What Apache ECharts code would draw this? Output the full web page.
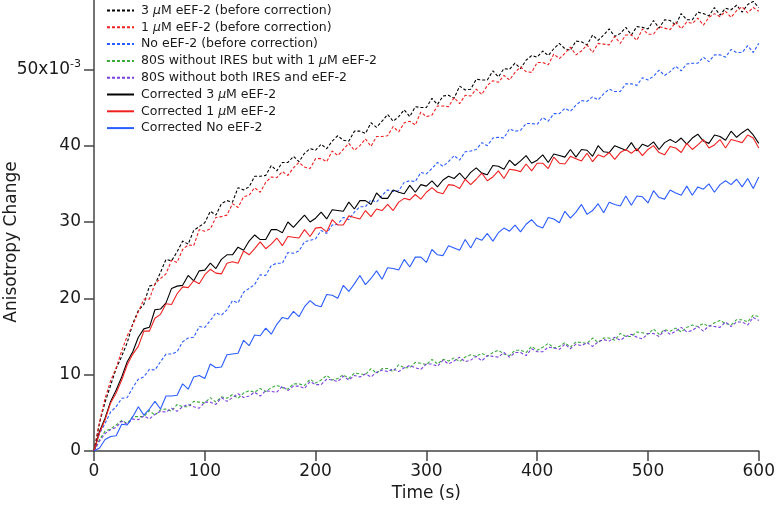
<!DOCTYPE html>
<html>
<head>
<meta charset="utf-8">
<script src="https://cdn.jsdelivr.net/npm/echarts@6/dist/echarts.min.js"></script>
<style>
html,body{margin:0;padding:0;background:#fff;overflow:hidden;width:778px;height:513px;}
#chart{position:absolute;left:0;top:-7px;width:778px;height:520px;}
</style>
</head>
<body>
<div id="chart"></div>
<script>
// Time (s)
const time = [0,5,10,15,20,25,30,35,40,45,50,55,60,65,70,75,80,85,90,95,
100,105,110,115,120,125,130,135,140,145,150,155,160,165,170,175,180,185,190,195,
200,205,210,215,220,225,230,235,240,245,250,255,260,265,270,275,280,285,290,295,
300,305,310,315,320,325,330,335,340,345,350,355,360,365,370,375,380,385,390,395,
400,405,410,415,420,425,430,435,440,445,450,455,460,465,470,475,480,485,490,495,
500,505,510,515,520,525,530,535,540,545,550,555,560,565,570,575,580,585,590,595,
600];

// Anisotropy change (x10^-3)
const before3uM = [0,3.7,6.4,8.6,10.8,12.4,14.2,16.7,18.4,19.2,21.6,21.8,23.4,25.1,24.9,26.1,27.5,27.1,28.9,29.4,
29.9,31.4,30.9,32.4,32.8,32.6,34.5,34.2,34.6,36,36,36.1,37.4,36.7,37.8,37.8,38.6,37.9,39,39.6,
39.4,40.2,39.6,40.6,41.3,40.7,40.6,41.9,41.9,41.6,43,42.4,43.2,44.1,43.2,43.8,44.7,43.8,45.1,45,
45,46.2,45.4,46.5,46.6,46.2,47.8,47.3,47.4,48.7,48.6,48.6,49.8,49,50.1,50,50.8,50.1,51.2,51.8,
51.6,52.4,51.8,52.7,53.4,52.7,52.5,53.7,53.6,53.2,54.5,53.8,54.5,55.3,54.3,54.7,55.5,54.5,55.6,55.5,
55.3,56.4,55.4,56.5,56.4,55.8,57.3,56.5,56.5,57.5,57.3,57,58.1,57.1,58,57.8,58.4,57.5,58.5,58.9,
58.1];

const before1uM = [0,3.8,6.9,9.2,10.9,13.1,15.1,16.5,18.2,19.9,19.9,21.9,22.6,23.2,25,24.7,26.4,27,26.9,29,
28.8,29.1,30.6,30.7,30.9,32.4,31.9,33.3,33.5,34.5,33.9,35.2,35.9,35.8,36.6,36.1,37.1,37.8,37.2,37,
38.3,38.3,37.9,39.3,38.7,39.5,40.3,39.4,40,40.9,39.9,41.2,41.2,41.3,42.5,41.8,43,43.2,42.7,44.4,
43.8,44,45.2,45.2,45.1,46.3,45.5,46.6,46.5,47.4,46.7,47.9,48.5,48.3,49.2,48.6,49.6,50.3,49.7,49.6,
50.9,50.9,50.6,52,51.4,52.1,52.9,51.9,52.4,53.2,52.2,53.4,53.3,53.2,54.3,53.4,54.5,54.5,53.8,55.3,
54.6,54.6,55.6,55.4,55.2,56.2,55.3,56.2,56,56.7,55.8,56.8,57.3,56.9,57.6,56.8,57.7,58.2,57.4,58.1,
57.6];

const beforeNo = [0,2.3,3.6,5.1,5.8,6.9,7,8.3,9.4,9.7,10.7,10.6,11.7,12.7,12.7,13,14.3,14.8,14.9,16.3,
16.2,17.1,18.1,17.8,18.5,19.7,19.4,20.8,21.3,21.8,23.1,23,24.3,24.6,24.6,26,25.9,26.2,27.4,27.6,
27.8,28.9,28.5,29.6,29.7,30.6,30.3,31.3,32,32,32.9,32.6,33.5,34.2,34,34.1,35.2,35.4,35.3,36.5,
36.3,37,37.8,37.3,37.9,38.7,38.1,39.2,39.3,39.5,40.4,40,41,41.1,41,42.2,41.9,42,42.9,42.9,
42.8,43.7,43.2,44.2,44.2,44.9,44.5,45.3,45.9,45.8,46.4,46,46.8,47.4,47.1,47.1,48.1,48.1,47.9,48.9,
48.6,49.1,49.9,49.2,49.7,50.4,49.8,50.7,50.8,50.8,51.6,51,51.9,51.9,51.6,52.6,52.2,52.2,53.1,52.2,
53.4];

const noIRESwith1uM = [0,1.5,2.6,2.9,3.4,4,3.6,4.5,4.5,4.5,5.3,4.7,5.4,5.5,5.2,6.1,5.8,5.8,6.5,6.4,
6.3,7,6.4,7.1,6.9,7.4,6.9,7.6,7.9,7.7,8.2,7.8,8.3,8.6,8.3,8.1,8.8,8.8,8.6,9.4,
8.9,9.3,9.9,9.3,9.5,10,9.5,10.2,10.1,10,10.8,10.2,10.8,10.8,10.4,11.3,10.9,10.9,11.6,11.5,
11.3,12,11.4,12,11.8,12.2,11.7,12.3,12.6,12.4,12.8,12.4,12.9,13.2,12.7,12.5,13.2,13.2,12.9,13.7,
13.2,13.6,14.1,13.5,13.7,14.2,13.6,14.3,14.2,14.1,14.8,14.2,14.8,14.8,14.5,15.4,15,15,15.6,15.5,
15.3,16,15.3,15.9,15.7,16.1,15.6,16.2,16.5,16.3,16.7,16.3,16.8,17.1,16.7,16.5,17.2,17.2,16.9,17.8,
17.6];

const noIRESnoEEF2 = [0,1.3,2.3,2.8,3.1,3.9,3.5,4.2,4.1,4.6,4.2,4.8,5.2,5.1,5.6,5.2,5.8,6.1,5.8,5.6,
6.4,6.4,6.1,7,6.5,7,7.5,7,7.2,7.7,7.2,7.9,7.8,7.7,8.5,7.9,8.5,8.5,8.2,9.1,
8.7,8.7,9.4,9.3,9.1,9.8,9.3,9.9,9.7,10.1,9.7,10.3,10.6,10.4,10.8,10.4,10.9,11.2,10.9,10.7,
11.4,11.4,11.1,11.9,11.4,11.8,12.3,11.7,11.9,12.4,11.8,12.5,12.4,12.3,12.9,12.3,12.9,12.9,12.5,13.4,
13,13,13.6,13.5,13.3,14,13.4,14,13.8,14.2,13.7,14.3,14.6,14.4,14.9,14.5,15,15.3,14.9,14.7,
15.4,15.4,15,15.8,15.3,15.7,16.2,15.6,15.8,16.3,15.7,16.4,16.3,16.2,16.9,16.3,16.9,16.9,16.5,17.5,
17.1];

const corrected3uM = [0,2.6,4.3,6.5,8,9.7,11.7,13,14.9,16,16.2,18.5,18.6,19.4,21.3,21.6,21.7,23,22.3,23.6,
23.7,24.6,23.9,25.1,25.7,25.7,26.7,26.3,27.5,28.3,27.7,27.7,29,29,28.6,30,29.3,30.1,30.9,30,
30.5,31.3,30.4,31.6,31.5,31.4,32.6,31.7,32.8,32.8,32.3,33.8,33.1,33.1,34.2,33.9,33.7,34.8,33.9,34.9,
34.7,35.4,34.6,35.5,36,35.7,36.4,35.6,36.5,37.1,36.4,36.2,37.4,37.3,36.9,38.1,37.4,38,38.7,37.7,
38.1,38.8,37.8,38.9,38.7,38.5,39.5,38.5,39.5,39.4,38.6,40,39.2,39.1,40,39.7,39.4,40.4,39.3,40.2,
39.9,40.5,39.5,40.4,40.8,40.4,41,40.2,41,41.5,40.6,40.3,41.4,41.2,40.7,41.9,41.1,41.7,42.2,41.4,
40.3];

const corrected1uM = [0,2.4,4.1,6.3,7.6,9.3,11.3,12.7,13.7,15.7,15.7,17.4,17.9,19.3,19.2,20.6,21.5,21.4,22.3,21.9,
23.1,23.8,23.3,23.2,24.6,24.8,24.6,26.2,25.7,26.5,27.4,26.5,27.1,27.9,26.9,28.1,28,27.9,29,28.1,
29.2,29.3,28.7,30.3,29.6,29.6,30.8,30.6,30.4,31.5,30.7,31.7,31.5,32.3,31.5,32.6,33.1,32.9,33.6,33,
33.9,34.5,33.9,33.7,34.9,34.8,34.4,35.6,34.9,35.6,36.4,35.4,35.9,36.7,35.7,36.9,36.8,36.6,37.6,36.7,
37.7,37.7,37,38.5,37.7,37.6,38.6,38.3,38,39,37.9,38.8,38.5,39.1,38.2,39.1,39.5,39,39.6,38.7,
39.5,40,39.1,38.8,39.9,39.7,39.1,40.3,39.5,40.1,40.8,39.7,40.1,40.8,39.7,40.8,40.6,40.4,41.4,41,
39.7];

const correctedNo = [0,0.4,1.5,1.9,2,3.5,3.4,4.5,5.8,4.7,5.5,6.5,5.5,7.2,7.2,7.3,8.8,8.1,9.7,9.9,
9.5,11.4,10.9,11,12.6,12.7,12.8,14.5,13.8,15.2,15.1,16.1,15.3,16.6,17.5,17.3,18.3,17.6,18.9,19.7,
19.1,18.9,20.5,20.4,20,21.7,20.9,21.9,23,21.8,22.6,23.6,22.5,24,23.9,23.7,25.1,24.1,25.4,25.4,
24.7,26.4,25.7,25.6,26.9,26.6,26.3,27.7,26.6,27.9,27.6,28.5,27.5,28.6,29.2,28.8,29.6,28.7,29.7,30.3,
29.5,29.2,30.6,30.4,29.9,31.4,30.5,31.3,32.3,31,31.5,32.4,31.2,32.6,32.3,32.1,33.4,32.2,33.4,33.3,
32.5,34.1,33.2,33,34.2,33.8,33.5,34.7,33.5,34.6,34.3,35,33.9,34.9,35.4,34.9,35.6,34.6,35.7,34.4,
35.9];

const seriesNames = [
  '3 μM eEF-2 (before correction)',
  '1 μM eEF-2 (before correction)',
  'No eEF-2 (before correction)',
  '80S without IRES but with 1 μM eEF-2',
  '80S without both IRES and eEF-2',
  'Corrected 3 μM eEF-2',
  'Corrected 1 μM eEF-2',
  'Corrected No eEF-2'
];
const seriesValues = [before3uM, before1uM, beforeNo, noIRESwith1uM, noIRESnoEEF2, corrected3uM, corrected1uM, correctedNo];
const seriesColors = ['#000000', '#f02020', '#2a5cff', '#3aaa3a', '#7a3fe0', '#000000', '#f02020', '#2a5cff'];
const seriesDashed = [true, true, true, true, true, false, false, false];

// y tick labels (value -> label); 60 lies just above the visible page
const yTickLabels = {0: '0', 10: '10', 20: '20', 30: '30', 40: '40', 50: '{b|50x10}{s|-3}'};

const FONT = 'DejaVu Sans';
const AXIS_COLOR = '#444444';
const TEXT_COLOR = '#1a1a1a';
const SHIFT = 7; // the chart div starts 7px above the page

const chart = echarts.init(document.getElementById('chart'), null, {renderer: 'canvas'});

const series = seriesNames.map((name, k) => ({
  name: name,
  type: 'line',
  data: time.map((t, i) => [t, seriesValues[k][i]]),
  symbol: 'none',
  showSymbol: false,
  smooth: false,
  clip: true,
  z: seriesDashed[k] ? 2 : 3,
  lineStyle: {
    color: seriesColors[k],
    width: 1.1,
    type: seriesDashed[k] ? [3, 2] : 'solid'
  },
  itemStyle: {color: seriesColors[k]},
  emphasis: {disabled: true}
}));

const tickStyle = {show: true, inside: false, length: 10, lineStyle: {color: AXIS_COLOR, width: 1.5, opacity: 1}};

const option = {
  animation: false,
  backgroundColor: '#ffffff',
  grid: {left: 94, right: 17, top: 0, bottom: 62, containLabel: false},
  xAxis: {
    type: 'value',
    min: 0, max: 600, interval: 100,
    axisLine: {show: true, onZero: false, lineStyle: {color: AXIS_COLOR, width: 1.5}},
    axisTick: tickStyle,
    axisLabel: {margin: 12, fontSize: 17, fontFamily: FONT, color: TEXT_COLOR},
    splitLine: {show: false},
    name: 'Time (s)',
    nameLocation: 'middle',
    nameGap: 32,
    nameTextStyle: {fontSize: 17, fontFamily: FONT, color: TEXT_COLOR}
  },
  yAxis: {
    type: 'value',
    min: 0, max: 60, interval: 10,
    axisLine: {show: true, lineStyle: {color: AXIS_COLOR, width: 1.5}},
    axisTick: tickStyle,
    axisLabel: {
      margin: 13, fontSize: 17, fontFamily: FONT, color: TEXT_COLOR,
      formatter: function (v) {
        return yTickLabels[v] !== undefined ? yTickLabels[v] : '';
      },
      rich: {
        b: {fontSize: 17, fontFamily: FONT, color: TEXT_COLOR, lineHeight: 22},
        s: {fontSize: 11, fontFamily: FONT, color: TEXT_COLOR, lineHeight: 12, verticalAlign: 'top'}
      }
    },
    splitLine: {show: false}
  },
  legend: {
    orient: 'vertical',
    left: 106,
    top: 3 + SHIFT,
    padding: 0,
    itemWidth: 27,
    itemHeight: 10,
    itemGap: 1.8,
    selectedMode: false,
    data: seriesNames,
    itemStyle: {opacity: 0},
    formatter: function (name) { return name.replace('μ', '{it|μ}'); },
    textStyle: {
      fontSize: 12.5, fontFamily: FONT, color: TEXT_COLOR, lineHeight: 15,
      padding: [0, 0, 0, 2],
      rich: {
        it: {fontSize: 12.5, fontFamily: FONT, fontStyle: 'italic', color: TEXT_COLOR, lineHeight: 15}
      }
    }
  },
  graphic: [{
    type: 'text',
    x: 12,
    y: 242 + SHIFT,
    rotation: Math.PI / 2,
    style: {
      text: 'Anisotropy Change',
      fill: TEXT_COLOR,
      font: '17px "DejaVu Sans"',
      align: 'center',
      verticalAlign: 'middle'
    }
  }],
  series: series
};

chart.setOption(option);
</script>
</body>
</html>
